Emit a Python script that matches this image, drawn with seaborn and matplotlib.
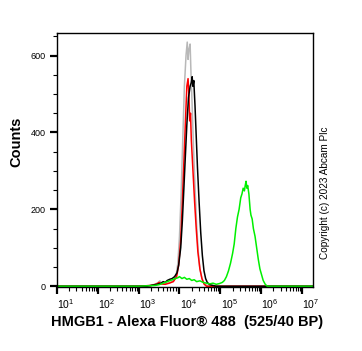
import numpy as np
import pandas as pd
import matplotlib
matplotlib.use("Agg")
import matplotlib.pyplot as plt
import matplotlib.transforms as mtransforms
from matplotlib.ticker import LogLocator, MultipleLocator, FixedLocator, NullFormatter
import seaborn as sns

# --- Daten (log10 Fluoreszenz, Counts) ---
grau_log = [1.0, 3.0, 3.3, 3.4, 3.48, 3.52, 3.56, 3.62, 3.7, 3.78, 3.86, 3.92, 3.96, 4.0,
            4.04, 4.08, 4.12, 4.16, 4.19, 4.21, 4.23, 4.26, 4.28, 4.31, 4.34, 4.38,
            4.42, 4.46, 4.5, 4.55, 4.6, 4.66, 4.72, 7.3]
grau_n = [0, 0, 2, 5, 10, 14, 8, 6, 8, 10, 16, 30, 60, 130,
          240, 380, 520, 600, 635, 590, 615, 630, 560, 470, 370, 260,
          160, 90, 45, 20, 8, 3, 0, 0]

rot_log = [1.0, 3.0, 3.3, 3.45, 3.5, 3.55, 3.65, 3.75, 3.85, 3.93, 3.98, 4.03, 4.07,
           4.11, 4.15, 4.18, 4.21, 4.23, 4.25, 4.27, 4.29, 4.33, 4.37, 4.41, 4.45,
           4.5, 4.55, 4.6, 4.66, 7.3]
rot_n = [0, 0, 2, 6, 10, 6, 5, 8, 12, 25, 55, 120, 220,
         330, 440, 520, 540, 500, 430, 450, 380, 300, 220, 150, 90,
         45, 20, 6, 0, 0]

schwarz_log = [1.0, 3.2, 3.35, 3.45, 3.55, 3.6, 3.65, 3.7, 3.76, 3.82, 3.88, 3.94, 3.98,
               4.03, 4.07, 4.11, 4.14, 4.18, 4.22, 4.26, 4.29, 4.31, 4.33, 4.35, 4.38,
               4.41, 4.44, 4.48, 4.52, 4.56, 4.6, 4.64, 4.68, 4.74, 4.82, 4.9, 7.3]
schwarz_n = [0, 0, 3, 5, 8, 12, 10, 15, 18, 20, 25, 35, 55,
             100, 170, 260, 330, 420, 490, 520, 530, 545, 520, 535, 470,
             390, 310, 220, 140, 80, 40, 20, 10, 4, 2, 0, 0]

gruen_log = [1.0, 3.0, 3.4, 3.5, 3.6, 3.7, 3.8, 3.9, 3.96, 4.0, 4.06, 4.12, 4.18, 4.24,
             4.3, 4.36, 4.42, 4.5, 4.58, 4.66, 4.74, 4.82, 4.9, 4.98, 5.05, 5.1,
             5.15, 5.2, 5.25, 5.3, 5.34, 5.38, 5.42, 5.46, 5.5, 5.53, 5.56, 5.59,
             5.61, 5.63, 5.65, 5.67, 5.7, 5.73, 5.75, 5.78, 5.81, 5.85, 5.89, 5.93,
             5.97, 6.01, 6.05, 6.1, 6.15, 7.3]
gruen_n = [0, 0, 2, 4, 8, 12, 16, 20, 22, 25, 20, 23, 18, 20,
           15, 17, 12, 14, 10, 8, 6, 8, 5, 7, 10, 15,
           25, 40, 60, 85, 110, 150, 180, 200, 230, 240, 255, 248,
           262, 273, 255, 262, 240, 200, 185, 175, 150, 130, 100, 70,
           45, 30, 15, 5, 0, 0]

x_ticks_exp = [1, 2, 3, 4, 5, 6, 7]

kurven = [("grau", grau_log, grau_n), ("rot", rot_log, rot_n),
          ("schwarz", schwarz_log, schwarz_n), ("gruen", gruen_log, gruen_n)]
farben = {"grau": "#b8b8b8", "rot": "#ff0000", "schwarz": "#000000", "gruen": "#00f000"}

teile = []
for name, lx, n in kurven:
    teile.append(pd.DataFrame({"probe": name, "fl": 10 ** np.array(lx), "counts": n}))
df = pd.concat(teile, ignore_index=True)

# --- Plot ---
sns.set_theme(style="ticks")
plt.rcParams["font.family"] = ["Liberation Sans", "DejaVu Sans"]
plt.rcParams["mathtext.fontset"] = "custom"
plt.rcParams["mathtext.rm"] = "Liberation Sans"
plt.rcParams["text.color"] = "black"

fig = plt.figure(figsize=(3.62, 3.51), dpi=100)
ax = fig.add_axes([57 / 362, 64 / 351, 256 / 362, 254.5 / 351])

sns.lineplot(data=df, x="fl", y="counts", hue="probe", units="probe", estimator=None,
             sort=False, palette=farben, hue_order=["grau", "rot", "schwarz", "gruen"],
             linewidth=1.1, legend=False, ax=ax)

ax.set_xscale("log")
ax.set_xlim(10, 10 ** 7.27)
ax.set_ylim(-2, 660)

ax.xaxis.set_major_locator(FixedLocator([10.0 ** e for e in x_ticks_exp]))
ax.set_xticklabels([rf"$10^{{{e}}}$" for e in x_ticks_exp])
ax.xaxis.set_minor_locator(LogLocator(base=10, subs=np.arange(2, 10), numticks=20))
ax.xaxis.set_minor_formatter(NullFormatter())
ax.yaxis.set_major_locator(MultipleLocator(200))
ax.yaxis.set_minor_locator(MultipleLocator(50))

ax.tick_params(which="major", length=5, width=1.6, color="black",
               labelcolor="black", pad=2)
ax.tick_params(which="minor", length=3, width=0.8, color="black")
ax.tick_params(axis="y", pad=3, labelsize=6.5)
ax.tick_params(axis="x", labelsize=7.5)

# Beschriftungen der x-Achse leicht nach rechts versetzt
versatz = mtransforms.ScaledTranslation(9 / 100, 0, fig.dpi_scale_trans)
for lab in ax.get_xticklabels():
    lab.set_transform(lab.get_transform() + versatz)

for s in ax.spines.values():
    s.set_linewidth(1.0)
    s.set_color("black")

ax.set_xlabel("")
ax.set_ylabel("")
fig.text(16 / 362, 1 - 142 / 351, "Counts", rotation=90, ha="center", va="center",
         fontsize=10.5, fontweight="bold", color="black")
fig.text(187 / 362, 1 - 322 / 351, "HMGB1 - Alexa Fluor® 488  (525/40 BP)",
         ha="center", va="center", fontsize=10.5, fontweight="bold", color="black")
fig.text(325 / 362, 1 - 193 / 351, "Copyright (c) 2023 Abcam Plc", rotation=90,
         ha="center", va="center", fontsize=7.2, color="black")

fig.savefig("out.png", dpi=100)
